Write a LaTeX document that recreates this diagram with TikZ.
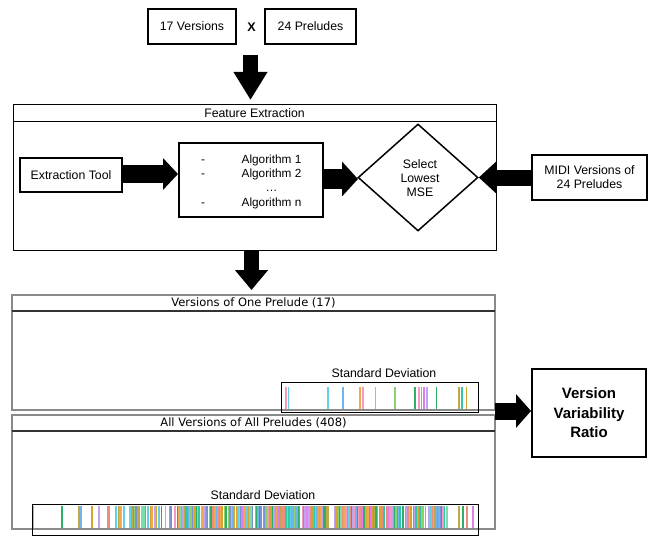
\documentclass[tikz,border=0pt]{standalone}
\usepackage{fontspec}
\setmainfont{Liberation Sans}
\newfontfamily\djv{DejaVu Sans}
\usetikzlibrary{arrows.meta,shapes.geometric}
\definecolor{c1}{HTML}{F49AC0}
\definecolor{c2}{HTML}{5FD0E8}
\definecolor{c3}{HTML}{6FB4F0}
\definecolor{c4}{HTML}{F2A850}
\definecolor{c5}{HTML}{C0A4F0}
\definecolor{c6}{HTML}{8CCF70}
\definecolor{c7}{HTML}{2FAE66}
\definecolor{c8}{HTML}{BEA84A}
\definecolor{c9}{HTML}{30C8A8}
\definecolor{c10}{HTML}{EE8C80}
\definecolor{c11}{HTML}{D8A430}
\definecolor{c12}{HTML}{E07CEC}
\definecolor{c13}{HTML}{7C92D0}
\definecolor{c14}{HTML}{7CDCAC}
\definecolor{secgray}{HTML}{8A8A8A}
\begin{document}
\begin{tikzpicture}[x=1pt,y=-1pt,
  box/.style={draw, line width=1.6pt, rectangle, inner sep=0pt, align=center, font=\fontsize{12.3}{14}\selectfont},
  stripe/.style={line width=1.5pt},
  sdbox/.style={draw, line width=1pt},
  lbl/.style={inner sep=0pt, font=\fontsize{12.3}{14}\selectfont},
  alglbl/.style={inner sep=0pt, anchor=base, font=\fontsize{11.8}{13}\selectfont}]
\useasboundingbox (0,0) rectangle (652,540);

% top boxes
\node[box, minimum width=88pt, minimum height=35pt] (v17) at (192,26.5) {17 Versions};
\node[box, minimum width=91pt, minimum height=35pt] (p24) at (310.5,26.5) {24 Preludes};
\node[lbl, font=\fontsize{12.5}{14}\selectfont\bfseries] (x) at (251.5,27) {X};

% arrow 1
\coordinate (a1s) at (250.5,55);
\coordinate (a1e) at (250.5,100);
\draw[line width=15pt, -{Triangle[length=28pt, width=32pt]}] (a1s) -- (a1e);

% Feature extraction frame
\node[draw, line width=1pt, minimum width=483pt, minimum height=145pt, inner sep=0pt] (fe) at (254.5,177.5) {};
\draw[line width=1pt] (13,122) -- (496,122);
\node[lbl] (fet) at (254.5,113.5) {Feature Extraction};

\node[box, line width=2pt, minimum width=102pt, minimum height=34pt] (ext) at (71,175) {Extraction Tool};
\node[box, line width=2pt, minimum width=144pt, minimum height=74pt] (alg) at (251,180) {};
\node[alglbl] (d1) at (203,164) {-};
\node[alglbl] (d2) at (203,177) {-};
\node[alglbl] (d3) at (203,206) {-};
\node[alglbl] (g1) at (271.5,164) {Algorithm 1};
\node[alglbl] (g2) at (271.5,177) {Algorithm 2};
\node[alglbl] (g3) at (271.5,191) {\ldots};
\node[alglbl] (g4) at (271.5,206) {Algorithm n};
\node[draw, line width=1.5pt, diamond, minimum width=120pt, minimum height=107pt, inner sep=0pt] (dia) at (418,177.5) {};
\node[lbl, align=center] (sel) at (420,178.5) {Select\\Lowest\\MSE};
\node[box, line width=2pt, minimum width=115pt, minimum height=45pt] (midi) at (589.5,177.5) {MIDI Versions of\\24 Preludes};

\draw[line width=18pt, -{Triangle[length=15pt, width=31pt]}] (ext.east |- 0,174) -- (alg.west |- 0,174);
\coordinate (algr) at (323,179);
\coordinate (dial) at (358,179);
\draw[line width=20pt, -{Triangle[length=16pt, width=34pt]}] (algr) -- (dial);
\draw[line width=16pt, -{Triangle[length=17pt, width=30pt]}] (midi.west) -- (dia.east);

% arrow 2
\coordinate (a2s) at (251.5,251);
\coordinate (a2e) at (251.5,290);
\draw[line width=15pt, -{Triangle[length=20pt, width=32pt]}] (a2s) -- (a2e);

% section boxes
\node[draw=secgray, line width=1.3pt, minimum width=483pt, minimum height=115pt, inner sep=0pt] (sec1) at (253.5,352.5) {};
\draw[line width=1.3pt, draw=black!80] (12,311) -- (495,311);
\node[lbl, font=\djv\fontsize{11.5}{13}\selectfont] (sec1t) at (253.5,303) {Versions of One Prelude (17)};

\node[draw=secgray, line width=1.3pt, minimum width=483pt, minimum height=114pt, inner sep=0pt] (sec2) at (253.5,472) {};
\draw[line width=1.3pt, draw=black!80] (12,431) -- (495,431);
\node[lbl, font=\djv\fontsize{11.5}{13}\selectfont] (sec2t) at (253.5,423) {All Versions of All Preludes (408)};

% stripes top
\foreach \xx/\cc in {286/c1,288.7/c2,328/c2,343/c3,360/c4,363/c1,375.7/c5,395/c6,415/c7,419/c1,421.7/c10,424/c12,427/c5,436.7/c7,459/c8,462/c9,466.7/c11}
  \draw[stripe, \cc] (\xx,387) -- (\xx,409);

% stripes bottom
\foreach \xx/\cc in {33/c4,62/c7,79/c8,81/c3,92/c11,99/c5,447/c14,459/c8,463/c7,467/c10,473/c12}
  \draw[stripe, \cc] (\xx,506) -- (\xx,528);
\pgfmathsetseed{17}
\foreach \k in {0,...,254} {
  \pgfmathsetmacro\xx{104+\k*1.34}
  \pgfmathrandominteger{\cn}{1}{14}
  \pgfmathrandominteger{\pp}{1}{10}
  \pgfmathtruncatemacro\thr{\xx<180 ? 4 : (\xx>328 && \xx<334 ? 11 : 1)}
  \ifnum\pp>\thr\relax
    \draw[stripe, c\cn] (\xx,506) -- (\xx,528);
  \fi
}

% SD boxes
\node[lbl] (sd1t) at (384,373) {Standard Deviation};
\node[sdbox, minimum width=197pt, minimum height=30pt, inner sep=0pt] (sd1) at (379.5,397) {};
\node[lbl] (sd2t) at (263,495) {Standard Deviation};
\node[sdbox, minimum width=446pt, minimum height=31pt, inner sep=0pt] (sd2) at (255,519.5) {};

% VVR
\node[box, line width=2pt, minimum width=114pt, minimum height=88pt, font=\fontsize{15}{19.5}\selectfont\bfseries] (vvr) at (589,413) {Version\\Variability\\Ratio};
\coordinate (a3s) at (495,411);
\draw[line width=17pt, -{Triangle[length=15pt, width=33pt]}] (a3s) -- (vvr.west |- a3s);
\end{tikzpicture}
\end{document}
